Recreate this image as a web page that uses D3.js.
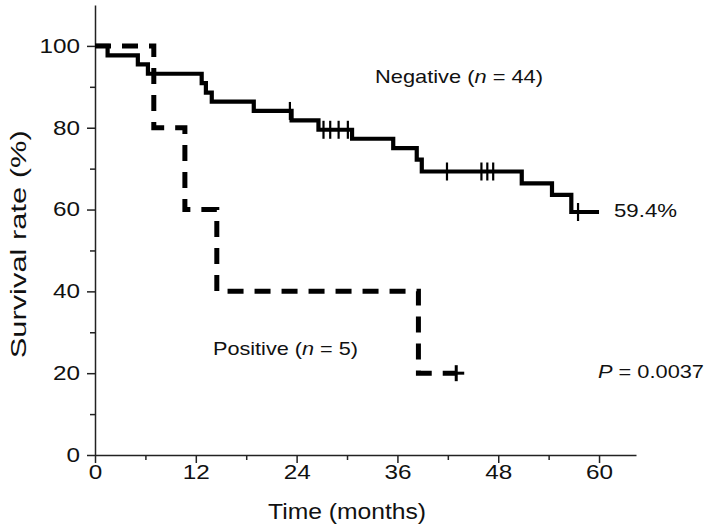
<!DOCTYPE html>
<html><head><meta charset="utf-8">
<script src="https://cdn.jsdelivr.net/npm/d3@7/dist/d3.min.js"></script>
<style>
html,body{margin:0;padding:0;background:#fff;}
svg text{font-family:"Liberation Sans",Arial,sans-serif;fill:#111;}
</style></head>
<body><svg id="c" width="709" height="527"></svg>
<script>
// Data
const negTimes = [0, 1.5, 5.1, 6.3, 12.7, 13.2, 13.9, 18.9, 23.4, 26.6, 30.6, 35.5, 38.3, 38.9, 50.8, 54.4, 56.7];
const negSurv  = [100, 97.7, 95.5, 93.2, 90.9, 88.6, 86.4, 84.1, 81.8, 79.5, 77.3, 75.0, 72.2, 69.3, 66.4, 63.6, 59.4];
const negEnd = 60;
const negCensor = [23.2, 27.2, 28.0, 29.0, 30.1, 41.9, 46.0, 46.7, 47.4, 57.5];
const posTimes = [0, 7, 10.7, 14.5, 38.5];
const posSurv  = [100, 80, 60, 40, 20];
const posEnd = 43;
const posCensor = [43];
const xTicks = [0, 12, 24, 36, 48, 60];
const xMinor = [6, 18, 30, 42, 54];
const yTicks = [0, 20, 40, 60, 80, 100];
const yMinor = [10, 30, 50, 70, 90];

const svg = d3.select("#c");
const x = d3.scaleLinear().domain([0, 64.4]).range([95, 636]);
const y = d3.scaleLinear().domain([0, 110]).range([455, 5]);

function stepPts(times, surv, end){
  const pts = [];
  times.forEach((t,i)=>pts.push([t, surv[i]]));
  pts.push([end, surv[surv.length-1]]);
  return pts;
}
function survAt(times, surv, t){
  let v = surv[0];
  times.forEach((tt,i)=>{ if (tt <= t) v = surv[i]; });
  return v;
}
const line = d3.line().x(d=>x(d[0])).y(d=>y(d[1])).curve(d3.curveStepAfter);

// Axes
svg.append("g").attr("class","xa").attr("transform", `translate(0,${y(0)})`)
  .call(d3.axisBottom(x).tickValues(xTicks).tickSize(8).tickPadding(2).tickSizeOuter(0));
svg.append("g").attr("transform", `translate(0,${y(0)})`)
  .call(d3.axisBottom(x).tickValues(xMinor).tickSize(5).tickFormat("").tickSizeOuter(0))
  .select(".domain").remove();
svg.append("g").attr("class","ya").attr("transform", `translate(${x(0)},0)`)
  .call(d3.axisLeft(y).tickValues(yTicks).tickSize(8).tickPadding(7).tickSizeOuter(0));
svg.append("g").attr("transform", `translate(${x(0)},0)`)
  .call(d3.axisLeft(y).tickValues(yMinor).tickSize(5).tickFormat("").tickSizeOuter(0))
  .select(".domain").remove();
svg.selectAll(".domain").attr("stroke", "#222").attr("stroke-width", 1.5);
svg.selectAll(".tick line").attr("stroke", "#222").attr("stroke-width", 1.5);
svg.selectAll(".tick text").style("font-size", "20px").attr("fill", "#111")
  .attr("textLength", function(){ return this.textContent.length * 13.5; })
  .attr("lengthAdjust", "spacingAndGlyphs");

// Positive (dashed)
svg.append("path").datum(stepPts(posTimes, posSurv, posEnd))
  .attr("d", line).attr("fill", "none").attr("stroke", "#000")
  .attr("stroke-width", 5).attr("stroke-dasharray", "16,11");
posCensor.forEach(t=>{
  const cx = x(t), cy = y(survAt(posTimes, posSurv, t));
  svg.append("line").attr("x1", cx-8).attr("x2", cx+8).attr("y1", cy).attr("y2", cy).attr("stroke", "#000").attr("stroke-width", 3);
  svg.append("line").attr("x1", cx).attr("x2", cx).attr("y1", cy-8).attr("y2", cy+8).attr("stroke", "#000").attr("stroke-width", 3);
});

// Negative (solid)
svg.append("path").datum(stepPts(negTimes, negSurv, negEnd))
  .attr("d", line).attr("fill", "none").attr("stroke", "#000").attr("stroke-width", 4.2);
negCensor.forEach(t=>{
  const cx = x(t), cy = y(survAt(negTimes, negSurv, t));
  svg.append("line").attr("x1", cx).attr("x2", cx).attr("y1", cy-9).attr("y2", cy+9).attr("stroke", "#000").attr("stroke-width", 2.2);
});

// Labels
function label(xp, yp, parts, size, len){
  const t = svg.append("text").attr("x", xp).attr("y", yp).style("font-size", size+"px")
    .attr("textLength", len).attr("lengthAdjust", "spacingAndGlyphs");
  parts.forEach(p=>t.append("tspan").text(p[0]).style("font-style", p[1] ? "italic" : "normal"));
}
label(375, 83, [["Negative ("],["n",1],[" = 44)"]], 19, 168);
label(213, 355, [["Positive ("],["n",1],[" = 5)"]], 19, 145);
label(614, 217, [["59.4%"]], 19, 63);
label(598, 378, [["P",1],[" = 0.0037"]], 19, 106);
svg.append("text").attr("x", x(30)).attr("y", 519).attr("text-anchor", "middle").style("font-size", "22px")
  .attr("textLength", 158).attr("lengthAdjust", "spacingAndGlyphs").text("Time (months)");
svg.append("text").attr("transform", `translate(26,${y(51.5)}) rotate(-90)`).attr("text-anchor", "middle").style("font-size", "22px")
  .attr("textLength", 228).attr("lengthAdjust", "spacingAndGlyphs").text("Survival rate  (%)");
</script></body></html>
